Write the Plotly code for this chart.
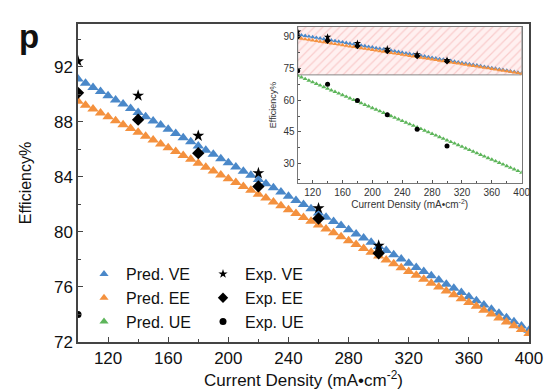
import plotly.graph_objects as go

# ---------------- data ----------------
current = [100, 105, 110, 115, 120, 125, 130, 135, 140, 145, 150, 155, 160, 165, 170, 175,
           180, 185, 190, 195, 200, 205, 210, 215, 220, 225, 230, 235, 240, 245, 250, 255,
           260, 265, 270, 275, 280, 285, 290, 295, 300, 305, 310, 315, 320, 325, 330, 335,
           340, 345, 350, 355, 360, 365, 370, 375, 380, 385, 390, 395, 400]

pred_ve = [91.10, 90.80, 90.49, 90.19, 89.88, 89.58, 89.28, 88.97, 88.67, 88.36, 88.06, 87.76,
           87.45, 87.15, 86.84, 86.54, 86.24, 85.93, 85.63, 85.32, 85.02, 84.72, 84.41, 84.11,
           83.80, 83.50, 83.20, 82.89, 82.59, 82.28, 81.98, 81.68, 81.37, 81.07, 80.76, 80.46,
           80.16, 79.85, 79.55, 79.24, 78.94, 78.64, 78.33, 78.03, 77.72, 77.42, 77.12, 76.81,
           76.51, 76.20, 75.90, 75.60, 75.29, 74.99, 74.68, 74.38, 74.08, 73.77, 73.47, 73.16, 72.86]

pred_ee = [89.48, 89.20, 88.92, 88.64, 88.36, 88.08, 87.79, 87.51, 87.23, 86.95, 86.67, 86.39,
           86.11, 85.83, 85.55, 85.27, 84.98, 84.70, 84.42, 84.14, 83.86, 83.58, 83.30, 83.02,
           82.74, 82.46, 82.17, 81.89, 81.61, 81.33, 81.05, 80.77, 80.49, 80.21, 79.93, 79.65,
           79.36, 79.08, 78.80, 78.52, 78.24, 77.96, 77.68, 77.40, 77.12, 76.84, 76.55, 76.27,
           75.99, 75.71, 75.43, 75.15, 74.87, 74.59, 74.31, 74.03, 73.74, 73.46, 73.18, 72.90, 72.62]

pred_ue = [71.60, 70.84, 70.07, 69.31, 68.55, 67.78, 67.02, 66.26, 65.49, 64.73, 63.97, 63.20,
           62.44, 61.68, 60.91, 60.15, 59.39, 58.62, 57.86, 57.10, 56.33, 55.57, 54.81, 54.04,
           53.28, 52.52, 51.75, 50.99, 50.23, 49.46, 48.70, 47.94, 47.17, 46.41, 45.65, 44.88,
           44.12, 43.36, 42.59, 41.83, 41.07, 40.30, 39.54, 38.78, 38.01, 37.25, 36.49, 35.72,
           34.96, 34.20, 33.43, 32.67, 31.91, 31.14, 30.38, 29.62, 28.85, 28.09, 27.33, 26.56, 25.80]

exp_current = [100, 140, 180, 220, 260, 300]
exp_ve = [92.4, 89.9, 86.98, 84.27, 81.72, 79.0]
exp_ee = [90.1, 88.15, 85.72, 83.3, 80.97, 78.45]
exp_ue = [74.0, 67.6, 59.9, 53.1, 46.3, 38.4]

zoom_box_x = [100, 400, 400, 100, 100]
zoom_box_y = [72, 72, 96, 96, 72]

# ---------------- style ----------------
BLUE = "#4a88c9"
ORANGE = "#f4913e"
GREEN = "#5db55a"
FONT = "Arial"

fig = go.Figure()

# main predicted
for ys, col in [(pred_ve, BLUE), (pred_ee, ORANGE), (pred_ue, GREEN)]:
    fig.add_trace(go.Scatter(x=current, y=ys, mode="markers", showlegend=False,
                             marker=dict(symbol="triangle-up", size=10, color=col),
                             xaxis="x", yaxis="y"))
# main experimental
for ys, sym, sz in [(exp_ve, "star", 9), (exp_ee, "diamond", 9.5), (exp_ue, "circle", 7)]:
    fig.add_trace(go.Scatter(x=exp_current, y=ys, mode="markers", showlegend=False,
                             marker=dict(symbol=sym, size=sz, color="black"),
                             xaxis="x", yaxis="y"))

# legend entries
for name, col in [("Pred. VE", BLUE), ("Pred. EE", ORANGE), ("Pred. UE", GREEN)]:
    fig.add_trace(go.Scatter(x=[None], y=[None], mode="markers", name=name, legend="legend",
                             marker=dict(symbol="triangle-up", size=8, color=col)))
for name, sym, sz in [("Exp. VE", "star", 7), ("Exp. EE", "diamond", 8), ("Exp. UE", "circle", 7)]:
    fig.add_trace(go.Scatter(x=[None], y=[None], mode="markers", name=name, legend="legend2",
                             marker=dict(symbol=sym, size=sz, color="black")))

# inset: hatched region
fig.add_trace(go.Scatter(x=zoom_box_x, y=zoom_box_y, mode="lines", fill="toself",
                         line=dict(color="#888888", width=1),
                         fillcolor="rgba(255,235,235,1)",
                         fillpattern=dict(shape="/", fgcolor="rgba(240,150,150,0.8)",
                                          bgcolor="rgba(255,240,240,1)", size=6, solidity=0.2),
                         showlegend=False, hoverinfo="skip", xaxis="x2", yaxis="y2"))
for ys, col in [(pred_ve, BLUE), (pred_ee, ORANGE), (pred_ue, GREEN)]:
    fig.add_trace(go.Scatter(x=current, y=ys, mode="markers", showlegend=False,
                             marker=dict(symbol="triangle-up", size=4.5, color=col),
                             xaxis="x2", yaxis="y2"))
for ys, sym, sz in [(exp_ve, "star", 5.5), (exp_ee, "diamond", 5), (exp_ue, "circle", 5)]:
    fig.add_trace(go.Scatter(x=exp_current, y=ys, mode="markers", showlegend=False,
                             marker=dict(symbol=sym, size=sz, color="black"),
                             xaxis="x2", yaxis="y2"))

L, R, T, B = 78, 22, 24, 50
W, H = 551, 392
pw, ph = W - L - R, H - T - B

def dx(px):
    return (px - L) / pw

def dy(py):
    return (H - B - py) / ph

axis_main = dict(showgrid=False, zeroline=False, showline=True, mirror=True,
                 linecolor="#444444", linewidth=1.5, ticks="inside", ticklen=5,
                 tickwidth=1, tickcolor="#444444", automargin=False,
                 tickfont=dict(family=FONT, size=17, color="#111111"))
axis_in = dict(showgrid=False, zeroline=False, showline=True, mirror=True,
               linecolor="#777777", linewidth=1, ticks="inside", ticklen=3,
               tickwidth=1, tickcolor="#555555", automargin=False,
               tickfont=dict(family=FONT, size=10, color="#333333"))

fig.update_layout(
    width=W, height=H,
    margin=dict(l=L, r=R, t=T, b=B, autoexpand=False),
    paper_bgcolor="white", plot_bgcolor="white",
    font=dict(family=FONT, color="#111111"),
    xaxis=dict(axis_main, range=[100, 400], dtick=40, tick0=0, domain=[0, 1],
               minor=dict(dtick=20, ticks="inside", ticklen=3, tickcolor="#444444"),
               title=dict(text="Current Density (mA\u2022cm<sup>-2</sup>)",
                          font=dict(family=FONT, size=17, color="#111111"), standoff=4)),
    yaxis=dict(axis_main, range=[72, 95.1], dtick=4, tick0=0, domain=[0, 1],
               minor=dict(dtick=2, ticks="inside", ticklen=3, tickcolor="#444444"),
               title=dict(text="Efficiency%", font=dict(family=FONT, size=16, color="#111111"),
                          standoff=18)),
    xaxis2=dict(axis_in, anchor="y2", range=[100, 400], dtick=40, tick0=0,
                domain=[dx(297.7), dx(521.7)],
                minor=dict(dtick=20, ticks="inside", ticklen=2, tickcolor="#555555"),
                title=dict(text="Current Density (mA\u2022cm<sup>-2</sup>)",
                           font=dict(family=FONT, size=10, color="#333333"), standoff=2)),
    yaxis2=dict(axis_in, anchor="x2", range=[20.7, 94.8], dtick=15, tick0=0,
                domain=[dy(183.3), dy(26.7)],
                minor=dict(dtick=7.5, ticks="inside", ticklen=2, tickcolor="#555555"),
                title=dict(text="Efficiency%", font=dict(family=FONT, size=9, color="#333333"),
                           standoff=5)),
    legend=dict(x=dx(82), y=dy(257), xref="paper", yref="paper",
                xanchor="left", yanchor="top", bgcolor="rgba(0,0,0,0)",
                font=dict(family=FONT, size=16, color="#111111"), itemwidth=34,
                tracegroupgap=0),
    legend2=dict(x=dx(201), y=dy(257), xref="paper", yref="paper",
                 xanchor="left", yanchor="top", bgcolor="rgba(0,0,0,0)",
                 font=dict(family=FONT, size=16, color="#111111"), itemwidth=34,
                 tracegroupgap=0),
    annotations=[dict(text="<b>p</b>", x=dx(17), y=dy(16), xref="paper", yref="paper",
                      showarrow=False, xanchor="left", yanchor="top",
                      font=dict(family=FONT, size=33, color="#111111"))],
)

fig.write_html("out.html")
